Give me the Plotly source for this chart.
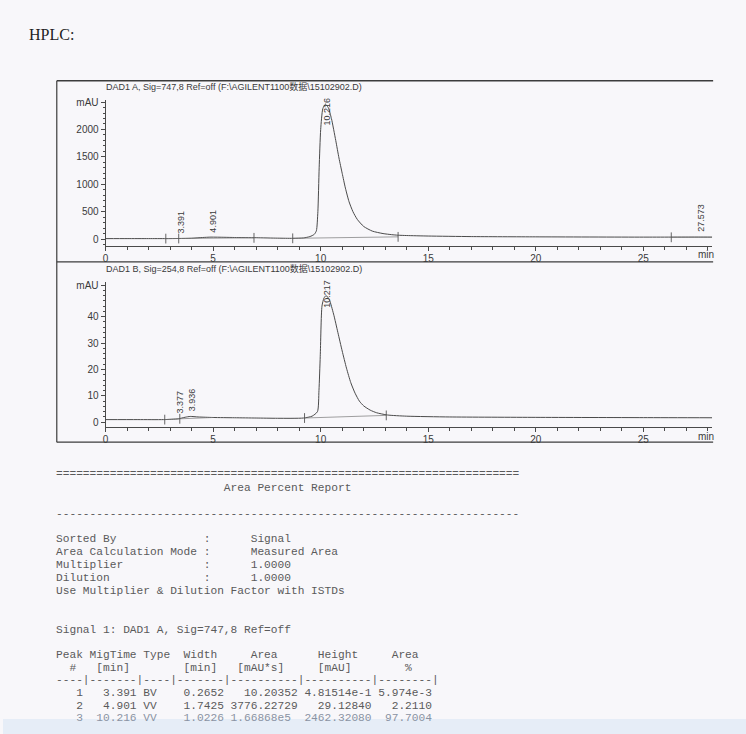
import numpy as np
import plotly.graph_objects as go

# ---------------- data ----------------
# Signal A (DAD1 A, 747 nm): time [min], mAU
time_A = [0.0, 1.0, 2.0, 2.8, 3.4, 4.0, 4.5, 4.9, 5.5, 6.0, 7.0, 8.0, 8.7, 9.2, 9.5, 9.7,
          9.8, 9.87, 9.93, 10.0, 10.1, 10.22, 10.35, 10.5, 10.7, 10.85, 11.0, 11.15,
          11.32, 11.5, 11.7, 12.0, 12.4, 12.9, 13.3, 13.6, 14.0, 15.0, 17.0, 20.0,
          25.0, 27.573, 28.2]
sig_A = [8, 8, 8, 8, 10, 15, 28, 35, 32, 28, 24, 16, 13, 20, 45, 85,
         150, 500, 1300, 2000, 2380, 2462, 2400, 2200, 1800, 1480, 1200, 930,
         680, 500, 360, 230, 145, 100, 80, 70, 64, 55, 45, 40,
         35, 36, 35]

# Signal B (DAD1 B, 254 nm)
time_B = [0.0, 1.5, 2.7, 3.377, 3.7, 3.936, 4.3, 5.0, 6.0, 7.0, 8.0, 9.2, 9.6, 9.85,
          9.92, 9.98, 10.06, 10.15, 10.25, 10.4, 10.6, 10.8, 11.0, 11.2, 11.4, 11.6,
          11.8, 12.0, 12.3, 12.6, 13.1, 14.0, 16.0, 20.0, 25.0, 28.2]
sig_B = [1.0, 1.0, 1.0, 1.3, 1.9, 2.2, 2.0, 1.8, 1.7, 1.6, 1.5, 1.6, 2.3, 4.0,
         12.0, 25.0, 44.0, 47.0, 48.0, 46.5, 41.0, 34.0, 27.0, 20.5, 15.0, 11.0,
         8.0, 6.2, 4.6, 3.6, 2.75, 2.3, 2.0, 1.85, 1.75, 1.7]

# Peak retention times (labels)
peaks_A = [3.391, 4.901, 10.216, 27.573]
peaks_B = [3.377, 3.936, 10.217]

# Integration events (baseline start/end) and baseline values
events_A_t = [2.8, 3.4, 6.9, 8.7, 13.6, 26.3]
events_A_v = [8, 10, 22, 13, 40, 32]
base_A_segments = [(2.8, 8, 3.4, 10), (3.4, 10, 6.9, 22), (8.7, 13, 13.6, 40), (26.3, 32, 28.2, 33)]
events_B_t = [2.75, 3.45, 9.25, 13.05]
events_B_v = [1.0, 1.3, 1.6, 2.6]
base_B_segments = [(2.75, 1.0, 3.45, 1.3), (3.45, 1.3, 5.0, 1.8), (9.25, 1.6, 13.05, 2.6)]

title_A = "DAD1 A, Sig=747,8 Ref=off (F:\\AGILENT1100数据\\15102902.D)"
title_B = "DAD1 B, Sig=254,8 Ref=off (F:\\AGILENT1100数据\\15102902.D)"

x_ticks = [0, 5, 10, 15, 20, 25]
yA_ticks = [0, 500, 1000, 1500, 2000, 2500]
yA_text = ["0", "500", "1000", "1500", "2000", "mAU"]
yB_ticks = [0, 10, 20, 30, 40, 52]
yB_text = ["0", "10", "20", "30", "40", "mAU"]

report_lines = [
    "=" * 69,
    " " * 25 + "Area Percent Report",
    "-" * 69,
    "Sorted By             :      Signal",
    "Area Calculation Mode :      Measured Area",
    "Multiplier            :      1.0000",
    "Dilution              :      1.0000",
    "Use Multiplier & Dilution Factor with ISTDs",
    "Signal 1: DAD1 A, Sig=747,8 Ref=off",
    "Peak MigTime Type  Width     Area      Height     Area  ",
    "  #   [min]        [min]   [mAU*s]     [mAU]        %   ",
    "----|-------|----|-------|----------|----------|--------|",
    "   1   3.391 BV    0.2652   10.20352 4.81514e-1 5.974e-3",
    "   2   4.901 VV    1.7425 3776.22729   29.12840   2.2110",
    "   3  10.216 VV    1.0226 1.66868e5  2462.32080  97.7004",
]
report_y = [473, 487, 513, 538, 551, 564, 577, 590, 630, 655, 668, 680, 693, 706, 718]

# ---------------- layout helpers ----------------
W, H = 746, 734
def px(x): return x / W
def py(y): return 1 - y / H

LINE = "#4a4a4a"
TXT = "#3a3a3a"
SANS = "Liberation Sans, Arial, Noto Sans CJK SC"
MONO = "Liberation Mono, Courier New, monospace"

fig = go.Figure()

# chromatograms
fig.add_trace(go.Scatter(x=time_A, y=sig_A, mode="lines", line=dict(color=LINE, width=1, shape="spline", smoothing=0.6),
                         xaxis="x", yaxis="y", hoverinfo="skip"))
fig.add_trace(go.Scatter(x=time_B, y=sig_B, mode="lines", line=dict(color=LINE, width=1, shape="spline", smoothing=0.6),
                         xaxis="x2", yaxis="y2", hoverinfo="skip"))

# baselines
for (x0, y0, x1, y1) in base_A_segments:
    fig.add_trace(go.Scatter(x=[x0, x1], y=[y0, y1], mode="lines",
                             line=dict(color="#777", width=0.7), xaxis="x", yaxis="y", hoverinfo="skip"))
for (x0, y0, x1, y1) in base_B_segments:
    fig.add_trace(go.Scatter(x=[x0, x1], y=[y0, y1], mode="lines",
                             line=dict(color="#777", width=0.7), xaxis="x2", yaxis="y2", hoverinfo="skip"))
# event ticks
fig.add_trace(go.Scatter(x=events_A_t, y=events_A_v, mode="markers",
                         marker=dict(symbol="line-ns", size=7, line=dict(color="#555", width=0.9)),
                         xaxis="x", yaxis="y", hoverinfo="skip"))
fig.add_trace(go.Scatter(x=events_B_t, y=events_B_v, mode="markers",
                         marker=dict(symbol="line-ns", size=7, line=dict(color="#555", width=0.9)),
                         xaxis="x2", yaxis="y2", hoverinfo="skip"))

annotations = []
# peak labels (small peaks sit just above the trace, main peak labels straddle the apex)
styleA = [("bottom", 3), ("bottom", 2), ("middle", -7), ("bottom", 3)]
for rt, (ya, sh) in zip(peaks_A, styleA):
    yv = float(np.interp(rt, time_A, sig_A))
    annotations.append(dict(x=rt, y=yv, xref="x", yref="y", text=f"{rt:.3f}", textangle=-90,
                            showarrow=False, xanchor="center", yanchor=ya, yshift=sh, xshift=2,
                            font=dict(family=SANS, size=9, color=TXT)))
styleB = [("bottom", 3), ("bottom", 3), ("middle", 3)]
for rt, (ya, sh) in zip(peaks_B, styleB):
    yv = float(np.interp(rt, time_B, sig_B))
    annotations.append(dict(x=rt, y=yv, xref="x2", yref="y2", text=f"{rt:.3f}", textangle=-90,
                            showarrow=False, xanchor="center", yanchor=ya, yshift=sh, xshift=2,
                            font=dict(family=SANS, size=9, color=TXT)))

# panel titles
annotations.append(dict(x=px(101), y=py(84), xref="paper", yref="paper", text=title_A,
                        showarrow=False, xanchor="left", yanchor="middle",
                        font=dict(family=SANS, size=9, color=TXT)))
annotations.append(dict(x=px(101), y=py(267), xref="paper", yref="paper", text=title_B,
                        showarrow=False, xanchor="left", yanchor="middle",
                        font=dict(family=SANS, size=9, color=TXT)))
# "min" axis unit labels
for xr, yy in (("x", 253), ("x2", 435)):
    annotations.append(dict(x=27.9, y=py(yy), xref=xr, yref="paper", text="min", showarrow=False,
                            xanchor="center", yanchor="middle", font=dict(family=SANS, size=10, color=TXT)))

# HPLC heading
annotations.append(dict(x=px(24), y=py(32), xref="paper", yref="paper", text="HPLC:",
                        showarrow=False, xanchor="left", yanchor="middle",
                        font=dict(family="Liberation Serif, Times New Roman, serif", size=16, color="#1e1e1e")))

# report text
for i, (line, yy) in enumerate(zip(report_lines, report_y)):
    col = "#8a93a3" if i == len(report_lines) - 1 else "#5a5a5a"
    annotations.append(dict(x=px(51), y=py(yy), xref="paper", yref="paper",
                            text=line.replace(" ", "\u00a0"), showarrow=False,
                            xanchor="left", yanchor="middle",
                            font=dict(family=MONO, size=11.2, color=col)))

# frame shapes
shapes = []
FR = "#3c3c3c"
for yy in (78, 260, 441):
    shapes.append(dict(type="line", xref="paper", yref="paper", x0=px(54), x1=px(713), y0=py(yy), y1=py(yy),
                       line=dict(color=FR, width=1.6 if yy == 78 else 1.2)))
shapes.append(dict(type="line", xref="paper", yref="paper", x0=px(54), x1=px(54), y0=py(78), y1=py(441),
                   line=dict(color=FR, width=1.2)))
# scanner band at bottom
shapes.append(dict(type="rect", xref="paper", yref="paper", x0=0, x1=1, y0=0, y1=py(719),
                   fillcolor="#e6edf7", line=dict(width=0), layer="below"))

xdom = [px(103), px(712)]
axis_common = dict(showline=True, linecolor=LINE, linewidth=1, ticks="outside", ticklen=4,
                   tickcolor=LINE, tickwidth=1, showgrid=False, zeroline=False,
                   tickfont=dict(family=SANS, size=10, color=TXT))

fig.update_layout(
    width=W, height=H, margin=dict(l=0, r=0, t=0, b=0),
    paper_bgcolor="#f8f7fa", plot_bgcolor="rgba(0,0,0,0)", showlegend=False,
    xaxis=dict(domain=xdom, range=[0, 28.2], anchor="y", tickvals=x_ticks, ticklabelstandoff=-1,
               minor=dict(ticks="outside", ticklen=3, dtick=1, tick0=0, tickcolor=LINE), **axis_common),
    yaxis=dict(domain=[py(244), py(97)], range=[-127, 2545], anchor="x", tickvals=yA_ticks, ticktext=yA_text,
               minor=dict(ticks="outside", ticklen=2, dtick=100, tick0=0, tickcolor=LINE), **axis_common),
    xaxis2=dict(domain=xdom, range=[0, 28.2], anchor="y2", tickvals=x_ticks, ticklabelstandoff=-1,
                minor=dict(ticks="outside", ticklen=3, dtick=1, tick0=0, tickcolor=LINE), **axis_common),
    yaxis2=dict(domain=[py(426), py(280)], range=[-1.9, 53.2], anchor="x2", tickvals=yB_ticks, ticktext=yB_text,
                minor=dict(ticks="outside", ticklen=2, dtick=2, tick0=0, tickcolor=LINE), **axis_common),
    annotations=annotations, shapes=shapes,
)

fig.write_html("out.html", config={"displayModeBar": False},
               post_script="document.body.style.margin='0';document.body.style.overflow='hidden';")
